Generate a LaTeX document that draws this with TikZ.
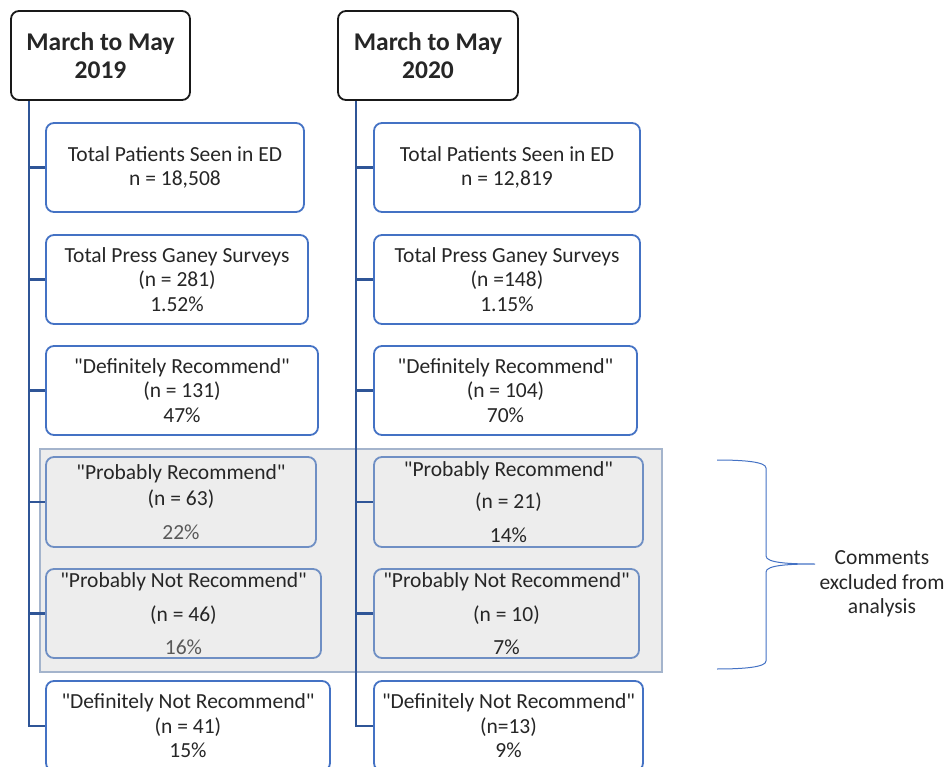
\documentclass[tikz,border=0pt]{standalone}
\usepackage{fontspec}
\setmainfont{Carlito}[Ligatures=TeXOff]
\definecolor{txt}{HTML}{262626}
\definecolor{lighttxt}{HTML}{595959}
\definecolor{boxblue}{HTML}{4472C4}
\definecolor{greyblue}{HTML}{6F8FC4}
\definecolor{conncol}{HTML}{2F5597}
\definecolor{greyfill}{HTML}{EDEDED}
\definecolor{rectborder}{HTML}{A4B4CC}
\begin{document}
\begin{tikzpicture}[x=1pt,y=-1pt,
  box/.style={draw=boxblue, line width=1.8pt, rounded corners=8pt, fill=white,
    align=center, text=txt, font=\fontsize{21.5}{24.5}\selectfont, inner sep=0pt,
    minimum height=89pt},
  greybox/.style={box, draw=greyblue, fill=greyfill},
  header/.style={draw=black!90, line width=1.8pt, rounded corners=8pt, fill=white,
    align=center, text=txt, font=\fontsize{25.5}{28}\selectfont\bfseries, inner sep=0pt,
    minimum height=89pt},
  conn/.style={draw=conncol, line width=2.2pt},
  bracestyle/.style={draw=boxblue, line width=1pt},
  note/.style={align=center, text=txt, font=\fontsize{21.5}{24.5}\selectfont}
]
\useasboundingbox (0,0) rectangle (948,767);

% excluded region
\node (excl) [draw=rectborder, line width=1.6pt, fill=greyfill, minimum width=622pt, minimum height=223pt, inner sep=0pt] at (351,560.5) {};

% headers
\node[header, minimum width=179pt] (h1) at (100.5,55.5) {March to May\\2019};
\node[header, minimum width=180pt] (h2) at (428,55.5) {March to May\\2020};

% trunk coordinates
\coordinate (lend) at (29,726);
\coordinate (rend) at (356,726);

% left column boxes
\node[box, minimum width=258pt] (l1) at (175,167.5) {Total Patients Seen in ED\\n = 18,508};
\node[box, minimum width=262pt] (l2) at (177,279.5) {Total Press Ganey Surveys\\(n = 281)\\1.52\%};
\node[box, minimum width=272pt] (l3) at (182,390.5) {"Definitely Recommend"\\(n = 131)\\47\%};
\node[greybox, minimum width=270pt, minimum height=90pt] (l4) at (181,502) {"Probably Recommend"\\[1.5pt](n = 63)\\[9.5pt]\textcolor{lighttxt}{22\%}};
\node[greybox, minimum width=275pt] (l5) at (183.5,613.5) {"Probably Not Recommend"\\[9.5pt](n = 46)\\[8.5pt]\textcolor{lighttxt}{16\%}};
\node[box, minimum width=284pt, minimum height=90pt] (l6) at (188,726) {"Definitely Not Recommend"\\(n = 41)\\15\%};

% right column boxes
\node[box, minimum width=266pt] (r1) at (507,167.5) {Total Patients Seen in ED\\n = 12,819};
\node[box, minimum width=266pt] (r2) at (507,279.5) {Total Press Ganey Surveys\\(n =148)\\1.15\%};
\node[box, minimum width=263pt] (r3) at (505.5,390.5) {"Definitely Recommend"\\(n = 104)\\70\%};
\node[greybox, minimum width=269pt, minimum height=90pt] (r4) at (508.5,502) {"Probably Recommend"\\[7.5pt](n = 21)\\[9.5pt]14\%};
\node[greybox, minimum width=265pt] (r5) at (506.5,613.5) {"Probably Not Recommend"\\[9.5pt](n = 10)\\[8.5pt]7\%};
\node[box, minimum width=269pt, minimum height=90pt] (r6) at (508.5,726) {"Definitely Not Recommend"\\(n=13)\\9\%};

% connectors left
\draw[conn] (h1.south -| lend) -- (lend) -- (l6.west);
\foreach \n in {l1,l2,l3,l4,l5} \draw[conn] (\n.west -| lend) -- (\n.west);
% connectors right
\draw[conn] (h2.south -| rend) -- (rend) -- (r6.west);
\foreach \n in {r1,r2,r3,r4,r5} \draw[conn] (\n.west -| rend) -- (\n.west);

% brace
\coordinate (btop) at (717,460);
\coordinate (bbot) at (717,669);
\coordinate (btip) at (815,564);
\draw[bracestyle] (btop) .. controls (745,460) and (766,462) .. (766,468)
  -- (766,556) .. controls (766,563) and (790,564) .. (btip)
  .. controls (790,564) and (766,565) .. (766,572)
  -- (766,661) .. controls (766,667) and (745,669) .. (bbot);

\node[note] (comment) at (882,584) {Comments\\excluded from\\analysis};
\end{tikzpicture}
\end{document}
